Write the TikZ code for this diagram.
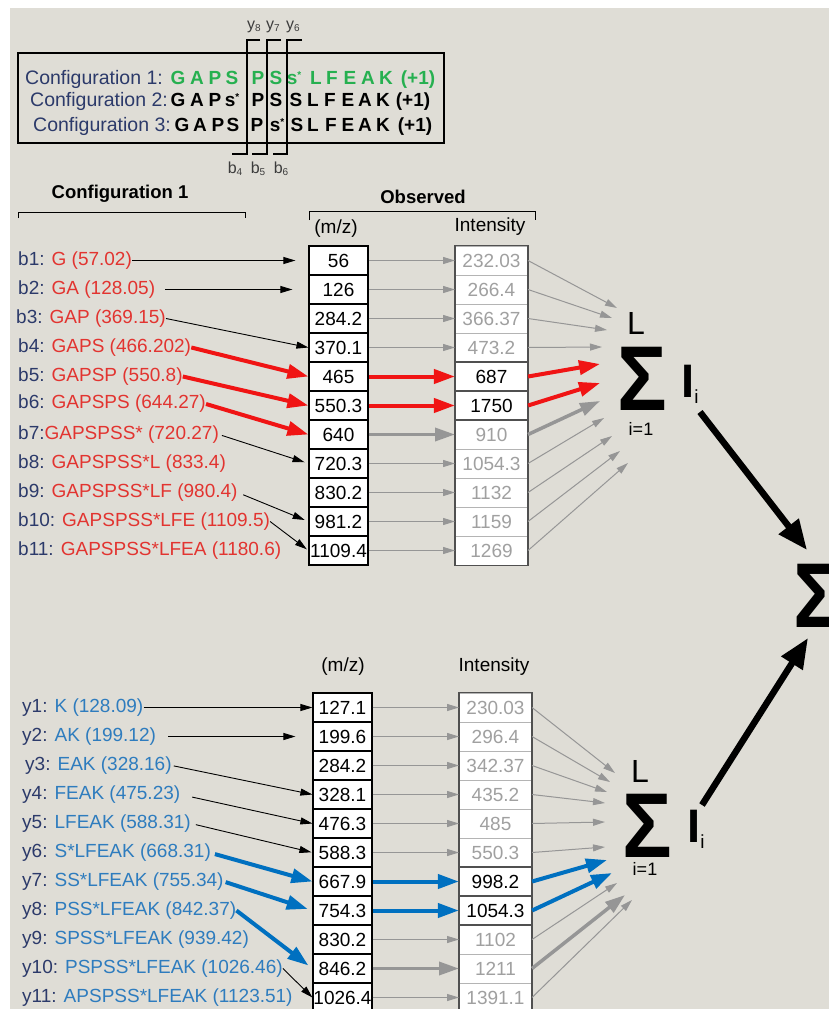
\documentclass[tikz,border=0pt]{standalone}
\usepackage{fontspec}
\setmainfont{Liberation Sans}
\usetikzlibrary{arrows.meta}

\definecolor{bg}{RGB}{223,221,214}
\definecolor{navy}{RGB}{44,58,106}
\definecolor{ionred}{RGB}{226,52,48}
\definecolor{ionblue}{RGB}{46,124,190}
\definecolor{seqgreen}{RGB}{38,176,80}
\definecolor{arrred}{RGB}{240,20,20}
\definecolor{arrblue}{RGB}{0,112,192}
\definecolor{arrgray}{RGB}{150,150,150}
\definecolor{intgray}{RGB}{160,160,160}
\definecolor{sepgray}{RGB}{180,180,180}
\definecolor{framegray}{RGB}{80,80,80}
\definecolor{lblgray}{RGB}{60,60,60}

% phosphorylated serine: lowercase s with a small raised star
\newcommand{\phs}{s\raisebox{0.3em}{\fontsize{10}{10}\selectfont *}}
% fragment label with a small index
\newcommand{\fragidx}[2]{#1\raisebox{-0.12em}{\fontsize{10}{10}\selectfont #2}}

\begin{document}
\begin{tikzpicture}[x=1pt,y=-1pt,
  txt/.style={font=\fontsize{19}{22}\selectfont, inner sep=0pt},
  head/.style={font=\bfseries\fontsize{18.5}{22}\selectfont, inner sep=0pt},
  ion/.style={txt, anchor=west},
  conf/.style={font=\fontsize{19.5}{22}\selectfont, inner sep=0pt, anchor=base west, text=navy},
  seq/.style={font=\bfseries\fontsize{19}{22}\selectfont, inner sep=0pt, anchor=base},
  frag/.style={font=\fontsize{16}{18}\selectfont, inner sep=0pt, text=lblgray},
  mzcell/.style={draw=black, line width=1.2pt, fill=white, minimum width=59pt,
    minimum height=29pt, inner sep=0pt, font=\fontsize{19}{22}\selectfont},
  intcell/.style={draw=sepgray, line width=1pt, fill=white, minimum width=72pt,
    minimum height=29pt, inner sep=0pt, font=\fontsize{19}{22}\selectfont, text=intgray},
  inthi/.style={intcell, draw=framegray, line width=1.2pt, text=black},
  thinblk/.style={draw=black, line width=0.9pt, -{Triangle[length=12pt,width=7pt]}},
  thingray/.style={draw=arrgray, line width=1pt, -{Triangle[length=12pt,width=7pt]}},
  thickgray/.style={draw=arrgray, line width=3.5pt, -{Triangle[length=20pt,width=13pt]}},
  thickred/.style={draw=arrred, line width=4pt, -{Triangle[length=21pt,width=14pt]}},
  thickblue/.style={draw=arrblue, line width=4pt, -{Triangle[length=21pt,width=14pt]}},
  bigarrow/.style={draw=black, line width=6.5pt, -{Triangle[length=30pt,width=24pt]}},
  sumsign/.style={font=\bfseries\fontsize{92}{92}\selectfont, inner sep=0pt},
  sumtop/.style={font=\fontsize{32}{32}\selectfont, inner sep=0pt},
  sumbot/.style={font=\fontsize{18}{18}\selectfont, inner sep=0pt},
  sumterm/.style={font=\fontsize{47}{47}\selectfont, inner sep=0pt, anchor=base west}
]
\useasboundingbox (0,0) rectangle (829,1009);
\clip (0,0) rectangle (829,1009);
\fill[white] (0,0) rectangle (829,1009);
\fill[bg] (10,8) rectangle (829,1009);

% ---------------- sequence box with the three configurations ----------------
\draw[line width=1.5pt] (18,53) rectangle (444,143);
\node[conf] (c1) at (25,84) {Configuration 1:};
\node[conf] (c2) at (30,106) {Configuration 2:};
\node[conf] (c3) at (33,131) {Configuration 3:};
\foreach \x/\t [count=\i] in {178/G,197/A,215/P,232/S,258/P,276/S,294/\phs,316/L,332/F,350/E,368/A,386/K,418/(+1)}
  \node[seq, text=seqgreen] (ra\i) at (\x,84) {\t};
\foreach \x/\t [count=\i] in {178/G,197/A,215/P,232/\phs,258/P,276/S,296/S,313/L,330/F,348/E,365/A,383/K,413/(+1)}
  \node[seq] (rb\i) at (\x,106) {\t};
\foreach \x/\t [count=\i] in {182/G,200/A,218/P,233/S,257/P,277/\phs,297/S,313/L,331/F,348/E,365/A,383/K,415/(+1)}
  \node[seq] (rc\i) at (\x,131) {\t};

% cleavage brackets
\draw[line width=1.5pt] (260,40) -- (247,40) -- (247,154) -- (232,154);
\draw[line width=1.5pt] (281,40) -- (267,40) -- (267,154) -- (252,154);
\draw[line width=1.5pt] (302,40) -- (287,40) -- (287,154) -- (273,154);
\node[frag] (y8) at (254,27) {\fragidx{y}{8}};
\node[frag] (y7) at (273,27) {\fragidx{y}{7}};
\node[frag] (y6) at (293,27) {\fragidx{y}{6}};
\node[frag] (b4l) at (235,169) {\fragidx{b}{4}};
\node[frag] (b5l) at (258,169) {\fragidx{b}{5}};
\node[frag] (b6l) at (281,169) {\fragidx{b}{6}};

% ---------------- b ions ----------------
\node[head] (h1) at (120,194) {Configuration 1};
\draw[line width=1pt] (18,218) -- (18,212) -- (245,212) -- (245,218);
\node[head] (h2) at (423,197) {Observed};
\draw[line width=1pt] (309,220) -- (309,211) -- (535,211) -- (535,220);
\node[txt] (mzh1) at (336,229) {(m/z)};
\node[txt] (inh1) at (490,227) {Intensity};

\node[ion] (b1) at (18,260.5) {\color{navy}b1: \color{ionred}G (57.02)};
\node[ion] (b2) at (18,289.5) {\color{navy}b2: \color{ionred}GA (128.05)};
\node[ion] (b3) at (16,318.5) {\color{navy}b3: \color{ionred}GAP (369.15)};
\node[ion] (b4) at (18,347.5) {\color{navy}b4: \color{ionred}GAPS (466.202)};
\node[ion] (b5) at (18,376.5) {\color{navy}b5: \color{ionred}GAPSP (550.8)};
\node[ion] (b6) at (18,404) {\color{navy}b6: \color{ionred} GAPSPS (644.27)};
\node[ion] (b7) at (18,434.5) {\color{navy}b7:\color{ionred}GAPSPSS* (720.27)};
\node[ion] (b8) at (18,463.5) {\color{navy}b8: \color{ionred}GAPSPSS*L (833.4)};
\node[ion] (b9) at (18,492.5) {\color{navy}b9: \color{ionred}GAPSPSS*LF (980.4)};
\node[ion] (b10) at (18,521.5) {\color{navy}b10: \color{ionred} GAPSPSS*LFE (1109.5)};
\node[ion] (b11) at (18,550.5) {\color{navy}b11: \color{ionred}GAPSPSS*LFEA (1180.6)};

\foreach \v [count=\k] in {56,126,284.2,370.1,465,550.3,640,720.3,830.2,981.2,1109.4}
  \node[mzcell] (m\k) at (338.5,231.5+29*\k) {\v};
\foreach \k/\v in {1/232.03,2/266.4,3/366.37,4/473.2,7/910,8/1054.3,9/1132,10/1159,11/1269}
  \node[intcell] (n\k) at (491.5,231.5+29*\k) {\v};
\foreach \k/\v in {5/687,6/1750}
  \node[inthi] (n\k) at (491.5,231.5+29*\k) {\v};
\draw[framegray, line width=1.2pt] (n1.north west) rectangle (n11.south east);

\draw[thinblk, shorten >=13pt] (b1.east) -- (m1.west);
\draw[thinblk, shorten <=10pt, shorten >=16pt] (b2.east) -- (m2.west);
\draw[thinblk] (b3.east) -- (m4.west);
\draw[thickred] (b4.east) -- (m5.west);
\draw[thickred] (b5.east) -- (m6.west);
\draw[thickred] (b6.east) -- (m7.west);
\draw[thinblk, shorten <=3pt, shorten >=4pt] (b7.east) -- (m8.west);
\draw[thinblk, shorten <=6pt, shorten >=4pt] (b9.east) -- (m10.west);
\draw[thinblk, shorten >=2pt] (b10.east) -- (m11.west);

\foreach \k in {1,2,3,4,8,9,10,11}
  \draw[thingray] (m\k.east) -- (n\k.west);
\draw[thickred] (m5.east) -- (n5.west);
\draw[thickred] (m6.east) -- (n6.west);
\draw[thickgray] (m7.east) -- (n7.west);

% upper sum
\node[sumsign] (sum1) at (642,379) {\scalebox{0.9}[1]{Σ}};
\node[sumtop] (L1) at (636,323) {L};
\node[sumbot] (low1) at (641,429) {i=1};
\node[sumterm] (I1) at (681,397) {\textbf{I}\raisebox{-6pt}{\fontsize{19}{19}\selectfont i}};
\foreach \k/\x/\y in {1/617/308,2/612/318,3/607/330,4/602/347,5/600/364,6/600/383,7/600/401,8/604/418,9/612/436,10/620/451,11/628/463}
  \coordinate (f\k) at (\x,\y);
\foreach \k in {1,2,3,4,8,9,10,11}
  \draw[thingray] (n\k.east) -- (f\k);
\draw[thickred] (n5.east) -- (f5);
\draw[thickred] (n6.east) -- (f6);
\draw[thickgray] (n7.east) -- (f7);

% ---------------- y ions ----------------
\node[txt] (mzh2) at (343,667) {(m/z)};
\node[txt] (inh2) at (494,667) {Intensity};

\node[ion] (y1) at (22,707.5) {\color{navy}y1: \color{ionblue}K (128.09)};
\node[ion] (y2) at (22,736.5) {\color{navy}y2: \color{ionblue}AK (199.12)};
\node[ion] (y3) at (25,765.5) {\color{navy}y3: \color{ionblue}EAK (328.16)};
\node[ion] (y4) at (22,794.5) {\color{navy}y4: \color{ionblue}FEAK (475.23)};
\node[ion] (y5) at (22,823.5) {\color{navy}y5: \color{ionblue}LFEAK (588.31)};
\node[ion] (y6) at (22,853) {\color{navy}y6: \color{ionblue}S*LFEAK (668.31)};
\node[ion] (y7) at (22,881.5) {\color{navy}y7: \color{ionblue}SS*LFEAK (755.34)};
\node[ion] (y8i) at (22,910.5) {\color{navy}y8: \color{ionblue}PSS*LFEAK (842.37)};
\node[ion] (y9) at (22,939.5) {\color{navy}y9: \color{ionblue}SPSS*LFEAK (939.42)};
\node[ion] (y10) at (22,968.5) {\color{navy}y10: \color{ionblue}PSPSS*LFEAK (1026.46)};
\node[ion] (y11) at (22,997.5) {\color{navy}y11: \color{ionblue}APSPSS*LFEAK (1123.51)};

\foreach \v [count=\k] in {127.1,199.6,284.2,328.1,476.3,588.3,667.9,754.3,830.2,846.2,1026.4}
  \node[mzcell] (p\k) at (342.5,678.5+29*\k) {\v};
\foreach \k/\v in {1/230.03,2/296.4,3/342.37,4/435.2,5/485,6/550.3,9/1102,10/1211,11/1391.1}
  \node[intcell] (q\k) at (495.5,678.5+29*\k) {\v};
\foreach \k/\v in {7/998.2,8/1054.3}
  \node[inthi] (q\k) at (495.5,678.5+29*\k) {\v};
\draw[framegray, line width=1.2pt] (q1.north west) rectangle (q11.south east);

\draw[thinblk] (y1.east) -- (p1.west);
\draw[thinblk, shorten <=12pt, shorten >=17pt] (y2.east) -- (p2.west);
\draw[thinblk, shorten <=2pt] (y3.east) -- (p4.west);
\draw[thinblk, shorten <=12pt] (y4.east) -- (p5.west);
\draw[thinblk, shorten <=5pt, shorten >=1pt] (y5.east) -- (p6.west);
\draw[thickblue, shorten <=4pt] (y6.east) -- (p7.west);
\draw[thickblue, shorten <=2pt, shorten >=5pt] (y7.east) -- (p8.west);
\draw[thickblue, shorten >=5pt] (y8i.east) -- (p10.west);
\draw[thinblk] (y10.east) -- (p11.west);

\foreach \k in {1,2,3,4,5,6,9,11}
  \draw[thingray] (p\k.east) -- (q\k.west);
\draw[thickblue] (p7.east) -- (q7.west);
\draw[thickblue] (p8.east) -- (q8.west);
\draw[thickgray] (p10.east) -- (q10.west);

% lower sum
\node[sumsign] (sum2) at (647,826) {\scalebox{0.9}[1]{Σ}};
\node[sumtop] (L2) at (640,771) {L};
\node[sumbot] (low2) at (645,869) {i=1};
\node[sumterm] (I2) at (687,842) {\textbf{I}\raisebox{-6pt}{\fontsize{19}{19}\selectfont i}};
\foreach \k/\x/\y in {1/615/773,2/610/782,3/607/792,4/605/803,5/605/822,6/605/847,7/607/860,8/612/873,9/617/883,10/625/895,11/632/900}
  \coordinate (g\k) at (\x,\y);
\foreach \k in {1,2,3,4,5,6,9,11}
  \draw[thingray] (q\k.east) -- (g\k);
\draw[thickblue] (q7.east) -- (g7);
\draw[thickblue] (q8.east) -- (g8);
\draw[thickgray] (q10.east) -- (g10);

% ---------------- total sum ----------------
\node[sumsign] (sum3) at (818,596) {\scalebox{0.9}[1]{Σ}};
\coordinate (out1) at (700,412);
\coordinate (in1) at (807,550);
\coordinate (out2) at (702,805);
\coordinate (in2) at (808,638);
\draw[bigarrow] (out1) -- (in1);
\draw[bigarrow] (out2) -- (in2);
\end{tikzpicture}
\end{document}
